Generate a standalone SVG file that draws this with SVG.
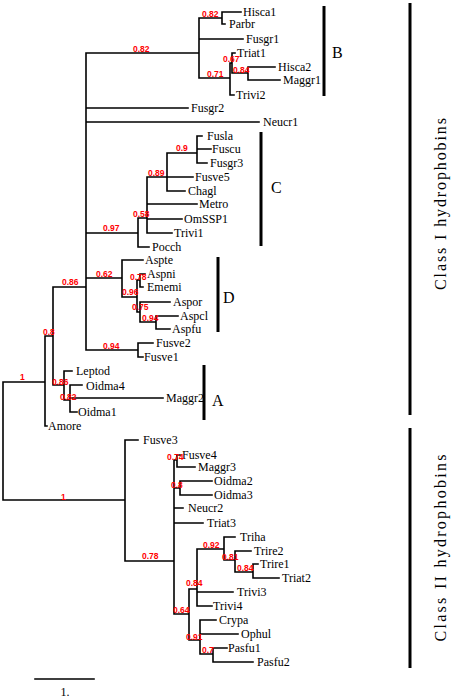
<svg xmlns="http://www.w3.org/2000/svg" width="454" height="698" viewBox="0 0 454 698">
<style>
.br{fill:none;stroke:#000;stroke-width:1.6;stroke-linecap:square}
.lf{font-family:"Liberation Serif","Times New Roman",serif;font-size:12px;fill:#000}
.bs{font-family:"Liberation Sans",Arial,sans-serif;font-size:8.5px;font-weight:bold;fill:#ff0000}
.bar{stroke:#000;stroke-width:3}
.cl{font-family:"Liberation Serif","Times New Roman",serif;font-size:16px;fill:#000}
</style>
<rect width="454" height="698" fill="#fff"/>
<g id="connectors">
<path class="br" d="M3,382V500M3,382H45M3,500H125
M45,336V426M45,336H53M45,426H47
M53,287V385M53,385H64M64,371V400M64,371H72M64,400H70M70,385V412M70,385H82M70,398H163M70,412H77
M53,287H86M86,53V350
M86,53H199M199,18V78M199,18H222M222,12V24M222,12H241M222,24H225M199,39H243
M199,78H230M230,63V95M230,95H234M230,63H232M232,53V73M232,53H235M232,73H248M248,67V80M248,67H275M248,80H280
M86,108H188M86,122H259
M86,233H138M138,218V247M138,247H149M138,218H147M147,177V233M147,204H197M147,219H182M147,233H172
M147,177H167M167,153V191M167,177H193M167,191H185M167,153H197M197,136V163M197,136H202M197,149H211M197,163H207
M86,278H122M122,260V297M122,260H143M122,297H137M137,280V312M137,280H140M140,274V287M140,274H145M140,287H143
M137,312H140M140,302V322M140,302H170M140,322H156M156,316V329M156,316H178M156,329H170
M86,350H138M138,343V357M138,343H153M138,357H143
M125,440V561M125,440H138M125,561H174M174,460V614
M174,460H177M177,455V467M177,455H180M177,467H195
M174,488H180M180,481V495M180,481H212M180,495H212
M174,508H183M174,523H203
M174,614H189M189,589V640M189,589H197M197,549V606M197,592H233M197,606H212
M197,549H224M224,537V560M224,537H235M224,560H235M235,551V572M235,551H251M235,572H253M253,564V578M253,564H258M253,578H279
M189,640H200M200,620V654M200,620H216M200,634H238M200,654H213M213,648V662M213,648H227M213,662H253
M35,679H94"/>
</g>
<g id="leaves">
<text class="lf" x="243" y="16">Hisca1</text>
<text class="lf" x="229" y="28">Parbr</text>
<text class="lf" x="246" y="43">Fusgr1</text>
<text class="lf" x="237" y="57">Triat1</text>
<text class="lf" x="278" y="71">Hisca2</text>
<text class="lf" x="283" y="84">Maggr1</text>
<text class="lf" x="236" y="99">Trivi2</text>
<text class="lf" x="191" y="112">Fusgr2</text>
<text class="lf" x="263" y="126">Neucr1</text>
<text class="lf" x="207" y="140">Fusla</text>
<text class="lf" x="212" y="153">Fuscu</text>
<text class="lf" x="210" y="167">Fusgr3</text>
<text class="lf" x="195" y="181">Fusve5</text>
<text class="lf" x="188" y="195">Chagl</text>
<text class="lf" x="199" y="208">Metro</text>
<text class="lf" x="184" y="223">OmSSP1</text>
<text class="lf" x="174" y="237">Trivi1</text>
<text class="lf" x="152" y="251">Pocch</text>
<text class="lf" x="145" y="264">Aspte</text>
<text class="lf" x="147" y="278">Aspni</text>
<text class="lf" x="147" y="291">Ememi</text>
<text class="lf" x="173" y="306">Aspor</text>
<text class="lf" x="180" y="320">Aspcl</text>
<text class="lf" x="172" y="333">Aspfu</text>
<text class="lf" x="156" y="347">Fusve2</text>
<text class="lf" x="144" y="361">Fusve1</text>
<text class="lf" x="76" y="374.5">Leptod</text>
<text class="lf" x="86" y="389.5">Oidma4</text>
<text class="lf" x="166" y="402">Maggr2</text>
<text class="lf" x="78" y="416">Oidma1</text>
<text class="lf" x="48" y="430">Amore</text>
<text class="lf" x="143" y="444">Fusve3</text>
<text class="lf" x="182" y="459">Fusve4</text>
<text class="lf" x="198" y="471">Maggr3</text>
<text class="lf" x="214" y="485">Oidma2</text>
<text class="lf" x="214" y="499">Oidma3</text>
<text class="lf" x="188" y="512">Neucr2</text>
<text class="lf" x="207" y="527">Triat3</text>
<text class="lf" x="240" y="541">Triha</text>
<text class="lf" x="254" y="555">Trire2</text>
<text class="lf" x="260" y="568">Trire1</text>
<text class="lf" x="282" y="582">Triat2</text>
<text class="lf" x="237" y="596">Trivi3</text>
<text class="lf" x="213" y="610">Trivi4</text>
<text class="lf" x="219" y="624">Crypa</text>
<text class="lf" x="241" y="638">Ophul</text>
<text class="lf" x="228" y="652">Pasfu1</text>
<text class="lf" x="257" y="666">Pasfu2</text>
</g>
<g id="support">
<text class="bs" x="202" y="17">0.82</text>
<text class="bs" x="133" y="52">0.82</text>
<text class="bs" x="223" y="62">0.67</text>
<text class="bs" x="233" y="73">0.84</text>
<text class="bs" x="207" y="77">0.71</text>
<text class="bs" x="176" y="151">0.9</text>
<text class="bs" x="148" y="176">0.89</text>
<text class="bs" x="133" y="217">0.58</text>
<text class="bs" x="103" y="231">0.97</text>
<text class="bs" x="96" y="277">0.62</text>
<text class="bs" x="62" y="285">0.86</text>
<text class="bs" x="130" y="280">0.78</text>
<text class="bs" x="122" y="295">0.96</text>
<text class="bs" x="132" y="310">0.75</text>
<text class="bs" x="142" y="321">0.94</text>
<text class="bs" x="43" y="335">0.8</text>
<text class="bs" x="103" y="349">0.94</text>
<text class="bs" x="20" y="380">1</text>
<text class="bs" x="52" y="385">0.86</text>
<text class="bs" x="60" y="400">0.82</text>
<text class="bs" x="167" y="460">0.74</text>
<text class="bs" x="171" y="488">0.8</text>
<text class="bs" x="61" y="500">1</text>
<text class="bs" x="203" y="548">0.92</text>
<text class="bs" x="142" y="559">0.78</text>
<text class="bs" x="222" y="560">0.81</text>
<text class="bs" x="237" y="571">0.84</text>
<text class="bs" x="186" y="586">0.84</text>
<text class="bs" x="173" y="613">0.64</text>
<text class="bs" x="186" y="640">0.91</text>
<text class="bs" x="202" y="653">0.7</text>
</g>
<g id="clades">
<line class="bar" x1="324" y1="6" x2="324" y2="96"/>
<text class="cl" x="332" y="58">B</text>
<line class="bar" x1="261" y1="132" x2="261" y2="246"/>
<text class="cl" x="271" y="193">C</text>
<line class="bar" x1="218" y1="257" x2="218" y2="332"/>
<text class="cl" x="223" y="303">D</text>
<line class="bar" x1="204" y1="365" x2="204" y2="420"/>
<text class="cl" x="212" y="406">A</text>
</g>
<g id="classes">
<line class="bar" x1="410" y1="3" x2="410" y2="415"/>
<text class="cl" transform="translate(446,204) rotate(-90)" text-anchor="middle" textLength="172" lengthAdjust="spacing">Class I hydrophobins</text>
<line class="bar" x1="410" y1="428" x2="410" y2="668"/>
<text class="cl" transform="translate(446,548) rotate(-90)" text-anchor="middle" textLength="187" lengthAdjust="spacing">Class II hydrophobins</text>
</g>
<g id="scale">
<text class="lf" x="65" y="696" text-anchor="middle">1.</text>
</g>
</svg>
